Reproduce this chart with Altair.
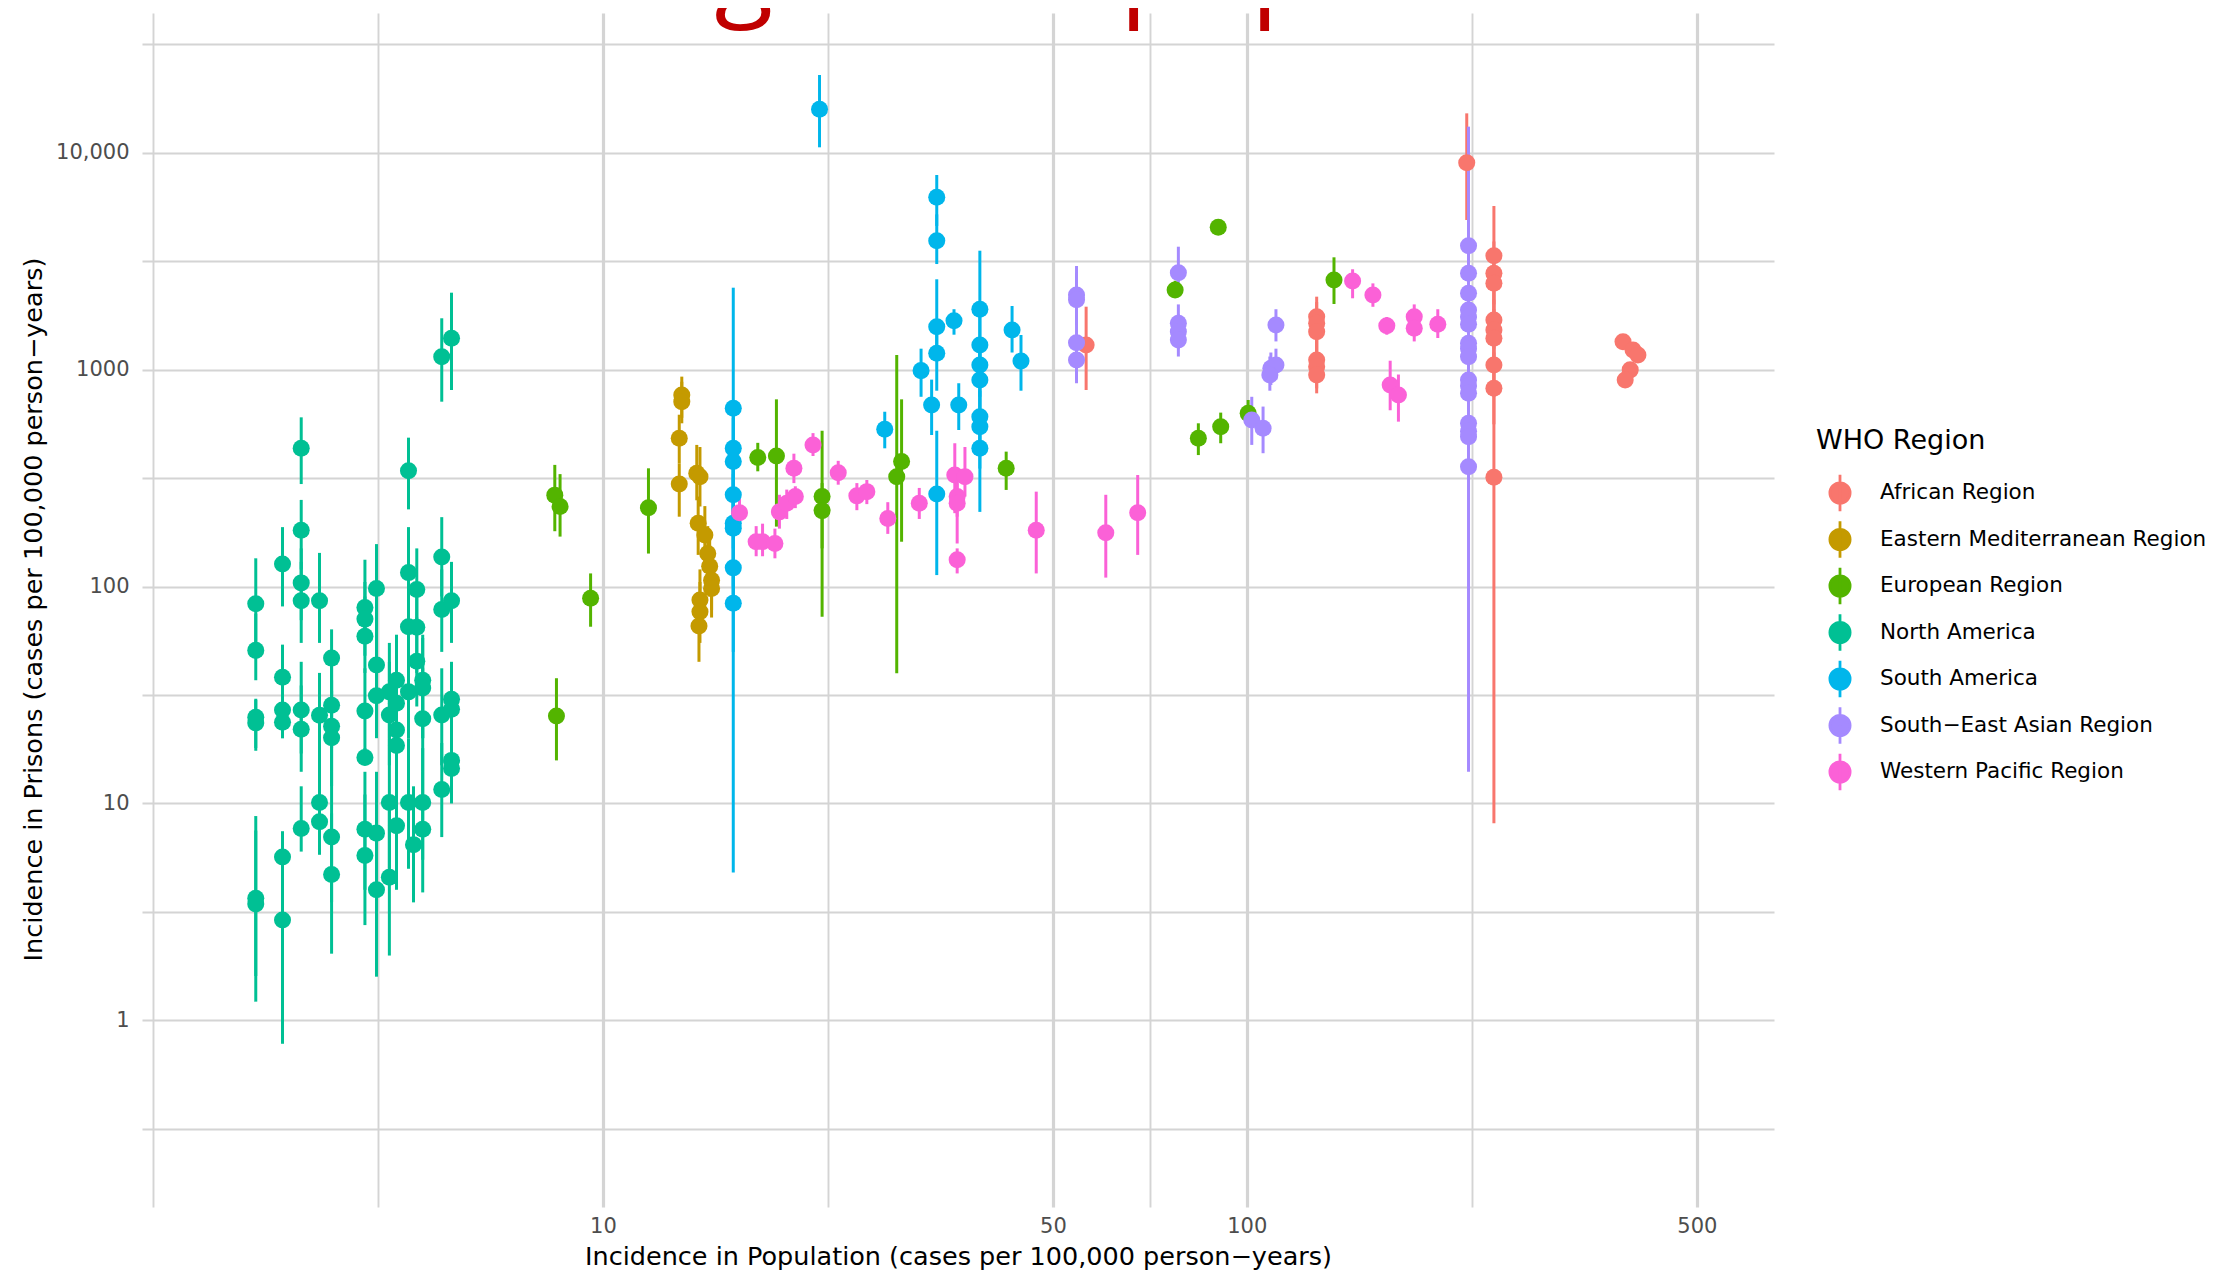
import altair as alt
import pandas as pd

REGIONS = ["African Region", "Eastern Mediterranean Region", "European Region",
           "North America", "South America", "South\u2212East Asian Region",
           "Western Pacific Region"]
COLORS = ["#F8766D", "#C49A00", "#53B400", "#00C094", "#00B6EB", "#A58AFF", "#FB61D7"]
TITLE = ["general population"]

# ---------------- data ----------------
af_x = [56.3, 128.4, 128.4, 128.4, 128.4, 128.4, 128.4, 219.6, 242, 242, 242, 242, 242, 242, 242, 242, 242,
        384, 398, 405, 394, 387]
af_y = [1300, 1756, 1637, 1497, 1108, 1033, 945, 9000, 3354, 2782, 2502, 1694, 1524, 1395, 1051, 821, 319,
        1346, 1233, 1169, 998, 896]
af_lo = [806, 1400, 1300, 1200, 880, 820, 778, 4900, 2400, 2000, 1800, 1250, 1100, 1000, 750, 560, 8.1,
         1250, 1150, 1080, 920, 830]
af_hi = [1952, 2171, 2050, 1900, 1400, 1300, 1150, 15200, 5685, 3900, 3500, 2300, 2100, 1900, 1450, 1200, 1100,
         1450, 1330, 1260, 1080, 970]

em_x = [13.26, 13.26, 13.14, 13.14, 13.99, 14.15, 14.06, 14.4, 14.55, 14.65, 14.75, 14.75, 14.15, 14.15, 14.1]
em_y = [764, 712, 483, 297, 333, 321, 196, 173, 142, 124, 107, 98, 86.7, 76.6, 65.8]
em_lo = [600, 566, 370, 210, 250, 234, 140, 125, 100, 90, 78, 72, 62, 55, 45]
em_hi = [929, 880, 620, 370, 450, 440, 260, 235, 190, 165, 145, 135, 120, 105, 90]

eu_x = [8.42, 8.58, 8.47, 9.57, 11.77, 17.4, 18.6, 21.9, 21.9, 29.1, 28.6, 42.3, 77.4, 84.1, 90.3, 91.1,
        100.5, 136.6]
eu_y = [264, 234, 25.3, 88.3, 231, 394, 400, 260, 224, 377, 321, 351, 2330, 483, 4535, 546, 629, 2592]
eu_lo = [180, 170, 15.8, 65.3, 142, 340, 189, 72.6, 150, 161, 39.8, 279, 2150, 404, 4300, 458, 556, 2009]
eu_hi = [364, 330, 37.8, 115, 351, 460, 730, 523, 300, 730, 1169, 419, 2570, 566, 4750, 634, 725, 3297]

na_x = [2.89, 2.89, 2.89, 2.89, 2.89, 2.89, 3.18, 3.18, 3.18, 3.18, 3.18, 3.18,
        3.40, 3.40, 3.40, 3.40, 3.40, 3.40, 3.40, 3.63, 3.63, 3.63, 3.63,
        3.79, 3.79, 3.79, 3.79, 3.79, 3.79, 4.27, 4.27, 4.27, 4.27, 4.27, 4.27, 4.27,
        4.45, 4.45, 4.45, 4.45, 4.45, 4.66, 4.66, 4.66, 4.66, 4.78, 4.78, 4.78, 4.78, 4.78,
        4.99, 4.99, 4.99, 4.99, 4.99, 5.08, 5.14, 5.14, 5.14, 5.25, 5.25, 5.25, 5.25, 5.25,
        5.62, 5.62, 5.62, 5.62, 5.62, 5.82, 5.82, 5.82, 5.82, 5.82, 5.82]
na_y = [83.3, 50.8, 25.0, 23.5, 3.66, 3.44, 127, 38.2, 27.0, 23.7, 5.67, 2.90,
        434, 182, 104, 86, 27, 22, 7.66, 86, 25.5, 10.1, 8.24,
        46.8, 28.4, 22.7, 20.1, 7.0, 4.70, 80, 70.8, 59, 26.7, 16.3, 7.6, 5.76,
        98, 43.5, 31.4, 7.3, 4.0, 32.7, 25.6, 10.1, 4.57, 37, 29, 21.8, 18.5, 7.9,
        342, 116, 65.3, 32.7, 10.1, 6.46, 97, 65, 45.3, 37, 34.1, 24.6, 10.1, 7.6,
        1148, 137, 78.4, 25.6, 11.6, 1396, 86, 30.2, 27.2, 15.8, 14.5]
na_lo = [50, 37, 17.5, 18, 1.6, 1.22, 81, 26, 20, 20, 3.5, 0.78,
         297, 120, 70, 55, 17, 14, 6.0, 55, 15, 6.5, 5.8,
         30, 18, 14, 12, 3.5, 2.03, 55, 48, 40, 17, 15, 4, 2.75,
         60, 25, 20, 3.5, 1.59, 20, 15, 5, 1.99, 22, 18, 13, 10, 4,
         227, 72, 40, 20, 5, 3.5, 60, 40, 28, 20, 20, 14, 5.5, 3.89,
         712, 90, 50, 15, 7, 806, 55, 20, 18, 10, 11.4]
na_hi = [135, 75, 30.4, 30, 8.75, 7.5, 188, 54, 38, 34, 7.45, 6.0,
         603, 251, 150, 130, 45, 35, 12, 143, 40, 16, 13,
         63.5, 45, 37, 33, 14, 9, 133, 105, 90, 42, 18, 14, 11,
         157, 75, 50, 14, 9, 55, 45, 20, 10, 60, 48, 36, 32, 15,
         486, 188, 105, 55, 20, 12, 150, 100, 72, 60, 58, 42, 18, 14,
         1726, 209, 120, 42, 19, 2265, 130, 45, 40, 25, 20]

sa_x = [21.7, 33.0, 33.0, 33.0, 33.0, 33.0, 31.2, 32.4, 35.1, 35.7, 38.5, 38.5, 38.5, 38.5, 38.5, 38.5, 38.5,
        43.2, 44.6, 27.4, 15.94, 15.94, 15.94, 15.94, 15.94, 15.94, 15.94, 15.94]
sa_y = [15870, 6237, 3935, 1578, 1190, 267, 990, 688, 1682, 688, 1899, 1300, 1051, 896, 607, 546, 434,
        1524, 1096, 531, 664, 434, 377, 265, 196, 186, 122, 83.7]
sa_lo = [10600, 4600, 3070, 1100, 800, 113, 750, 500, 1450, 527, 1050, 900, 750, 650, 400, 350, 221,
         1200, 800, 434, 180, 250, 220, 150, 100, 90, 50, 4.8]
sa_hi = [22840, 7900, 5200, 2611, 1700, 523, 1250, 900, 1900, 866, 3537, 1800, 1400, 1200, 850, 800, 650,
         1966, 1445, 640, 2388, 700, 600, 450, 350, 330, 250, 200]

sea_x = [54.4, 54.4, 54.4, 54.4, 78.3, 78.3, 78.3, 78.3, 111, 109, 111, 108.6, 101.8, 106,
         221, 221, 221, 221, 221, 221, 221, 221, 221, 221, 221, 221, 221, 221, 221, 221]
sea_y = [2210, 2100, 1332, 1108, 2800, 1637, 1497, 1370, 1607, 1015, 1051, 945, 586, 537,
         3730, 2782, 2250, 1884, 1750, 1620, 1323, 1250, 1148, 896, 840, 778, 566, 520, 491, 357]
sea_lo = [1607, 1600, 900, 866, 2300, 1400, 1250, 1150, 1350, 850, 900, 800, 450, 412,
          2500, 2000, 1700, 1400, 1300, 1200, 1000, 950, 850, 650, 600, 550, 400, 380, 350, 14]
sea_hi = [3007, 2800, 1900, 1400, 3690, 2000, 1800, 1650, 1900, 1200, 1250, 1150, 750, 676,
          13200, 3800, 3000, 2500, 2300, 2200, 1800, 1700, 1550, 1200, 1150, 1050, 760, 700, 650, 600]

wp_x = [21.2, 19.8, 16.3, 17.3, 17.7, 18.5, 18.8, 19.3, 19.9, 23.2, 24.8, 25.7, 27.7, 31.0, 35.2, 36.5,
        35.5, 35.5, 35.5, 47.1, 60.4, 67.7, 146, 157, 165, 182, 182, 198, 167, 172]
wp_y = [450, 351, 219, 161, 161, 158, 221, 242, 260, 335, 262, 274, 206, 242, 327, 321,
        260, 242, 133, 182, 177, 219, 2564, 2210, 1595, 1756, 1552, 1619, 850, 764]
wp_lo = [400, 300, 190, 138, 138, 135, 185, 205, 230, 295, 225, 240, 175, 205, 218, 260,
         210, 158, 115, 115, 110, 140, 2134, 1950, 1450, 1550, 1350, 1400, 650, 576]
wp_hi = [510, 410, 255, 190, 195, 185, 265, 280, 290, 380, 300, 310, 245, 285, 458, 440,
         330, 300, 150, 274, 265, 327, 2904, 2500, 1750, 2000, 1750, 1900, 1100, 950]

X_GRID = [2, 4.472, 10, 22.36, 50, 70.71, 100, 223.6, 500]
Y_GRID = [0.3162, 1, 3.162, 10, 31.62, 100, 316.2, 1000, 3162, 10000, 31623]
X_LABELS = {10: "10", 50: "50", 100: "100", 500: "500"}
Y_LABELS = {1: "1", 10: "10", 100: "100", 1000: "1000", 10000: "10,000"}

# ---------------- table ----------------
series = [
    (REGIONS[0], af_x, af_y, af_lo, af_hi),
    (REGIONS[1], em_x, em_y, em_lo, em_hi),
    (REGIONS[2], eu_x, eu_y, eu_lo, eu_hi),
    (REGIONS[3], na_x, na_y, na_lo, na_hi),
    (REGIONS[4], sa_x, sa_y, sa_lo, sa_hi),
    (REGIONS[5], sea_x, sea_y, sea_lo, sea_hi),
    (REGIONS[6], wp_x, wp_y, wp_lo, wp_hi),
]
rows = []
for name, xs, ys, los, his in series:
    for a, b, c, d in zip(xs, ys, los, his):
        rows.append({"region": name, "pop": a, "prison": b, "lo": c, "hi": d})
df = pd.DataFrame(rows)


def label_expr(mapping):
    parts = [f"datum.value == {k} ? '{v}'" for k, v in mapping.items()]
    return " : ".join(parts) + " : ''"


major_x = " || ".join(f"datum.value == {k}" for k in X_LABELS)

x_scale = alt.Scale(type="log", domain=[1.924, 658.9], nice=False)
y_scale = alt.Scale(type="log", domain=[0.1379, 44110], nice=False)
color_scale = alt.Scale(domain=REGIONS, range=COLORS)

x_axis = alt.Axis(
    values=X_GRID, labelExpr=label_expr(X_LABELS), labelOverlap=False, labelFlush=False,
    grid=True, gridColor="#D4D4D4",
    gridWidth={"condition": {"test": major_x, "value": 3.2}, "value": 1.9},
    ticks=False, domain=False, labelPadding=8, labelFontSize=21, labelColor="#4D4D4D",
    title="Incidence in Population (cases per 100,000 person\u2212years)",
    titleFontSize=25.5, titleFontWeight="normal", titleColor="#000000",
    titleY=49, titleBaseline="middle",
)
y_axis = alt.Axis(
    values=Y_GRID, labelExpr=label_expr(Y_LABELS), labelOverlap=False, labelFlush=False,
    grid=True, gridColor="#D4D4D4", gridWidth=2.2,
    ticks=False, domain=False, labelPadding=13, labelFontSize=21, labelColor="#4D4D4D",
    title="Incidence in Prisons (cases per 100,000 person\u2212years)",
    titleFontSize=25.5, titleFontWeight="normal", titleColor="#000000",
    titleX=-109, titleY=596, titleBaseline="middle", titleAngle=-90,
)

legend = alt.Legend(
    title="WHO Region", orient="none", legendX=1674, legendY=415,
    symbolType="M0,-1L0,1M-0.55,0A0.55,0.55,0,1,1,0.55,0A0.55,0.55,0,1,1,-0.55,0Z",
    symbolSize=1347, symbolStrokeWidth=2.8, symbolOffset=4, labelOffset=20,
    rowPadding=-1.5, titlePadding=18, padding=0, labelLimit=0,
    labelFontSize=21.5, labelColor="#000000", titleFontSize=27, titleFontWeight="normal",
    titleColor="#000000", symbolOpacity=1,
)

base = alt.Chart(df)
bars = base.mark_rule(strokeWidth=3).encode(
    x=alt.X("pop:Q", scale=x_scale, axis=x_axis),
    y=alt.Y("lo:Q", scale=y_scale, axis=y_axis),
    y2="hi:Q",
    color=alt.Color("region:N", scale=color_scale, legend=legend),
)
points = base.mark_circle(size=290, opacity=1).encode(
    x=alt.X("pop:Q", scale=x_scale),
    y=alt.Y("prison:Q", scale=y_scale),
    color=alt.Color("region:N", scale=color_scale, legend=legend),
)
# slide heading that runs off the top edge of the picture
heading = alt.Chart(pd.DataFrame({"t": TITLE})).mark_text(
    font="Open Sans", fontSize=108, color="#C00000", align="center", baseline="alphabetic",
).encode(text="t:N", x=alt.value(1049), y=alt.value(-8))

chart = alt.layer(bars, points, heading).properties(
    width=1632, height=1194,
    autosize=alt.AutoSizeParams(type="none"),
    padding={"left": 134, "top": 5, "right": 437, "bottom": 63},
).configure_view(strokeWidth=0).configure_axis(
    labelFont="DejaVu Sans", titleFont="DejaVu Sans"
).configure_legend(
    labelFont="DejaVu Sans", titleFont="DejaVu Sans"
)

chart.save("out.html", embed_options={"renderer": "svg", "actions": False})
